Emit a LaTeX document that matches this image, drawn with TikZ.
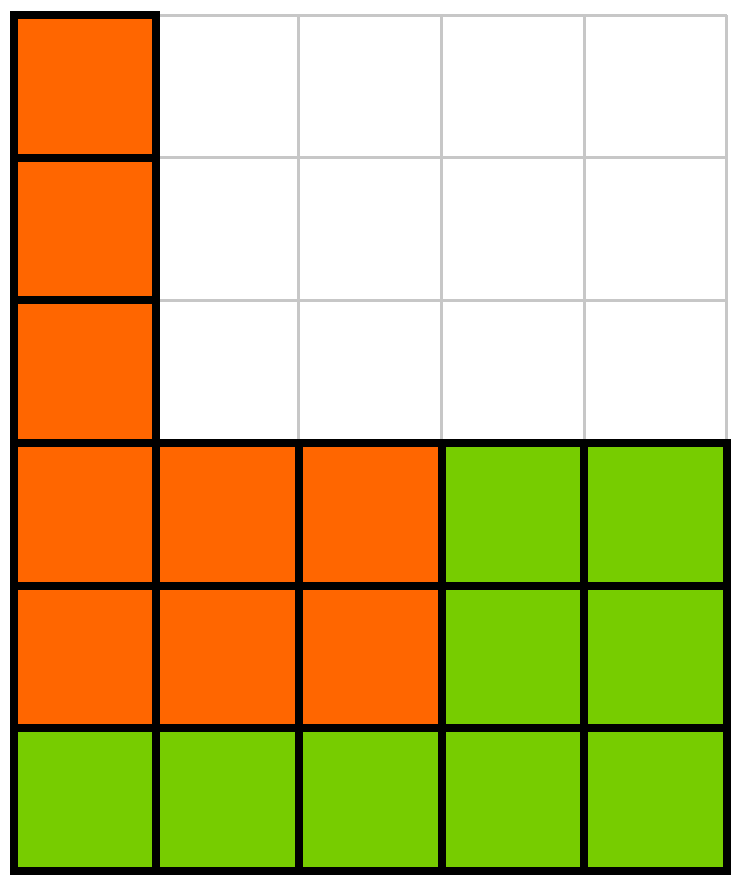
\documentclass[tikz,border=0pt]{standalone}
\definecolor{orng}{RGB}{255,102,0}
\definecolor{grn}{RGB}{119,204,0}
\tikzset{
  cellbox/.style={draw=black, line width=1.6pt},
  gridline/.style={draw=black!22, line width=0.6pt}
}
\begin{document}
\begin{tikzpicture}
\useasboundingbox (-0.095,-0.077) rectangle (5.091,6.105);
\fill[white] (-0.095,-0.077) rectangle (5.091,6.105);
\draw[gridline] (0,0) grid (5,6);
% orange cells
\foreach \x/\y in {0/5,0/4,0/3,0/2,0/1,1/2,2/2,1/1,2/1}
  \filldraw[cellbox, fill=orng] (\x,\y) rectangle ++(1,1);
% green cells
\foreach \x/\y in {3/2,4/2,3/1,4/1,0/0,1/0,2/0,3/0,4/0}
  \filldraw[cellbox, fill=grn] (\x,\y) rectangle ++(1,1);
\end{tikzpicture}
\end{document}
